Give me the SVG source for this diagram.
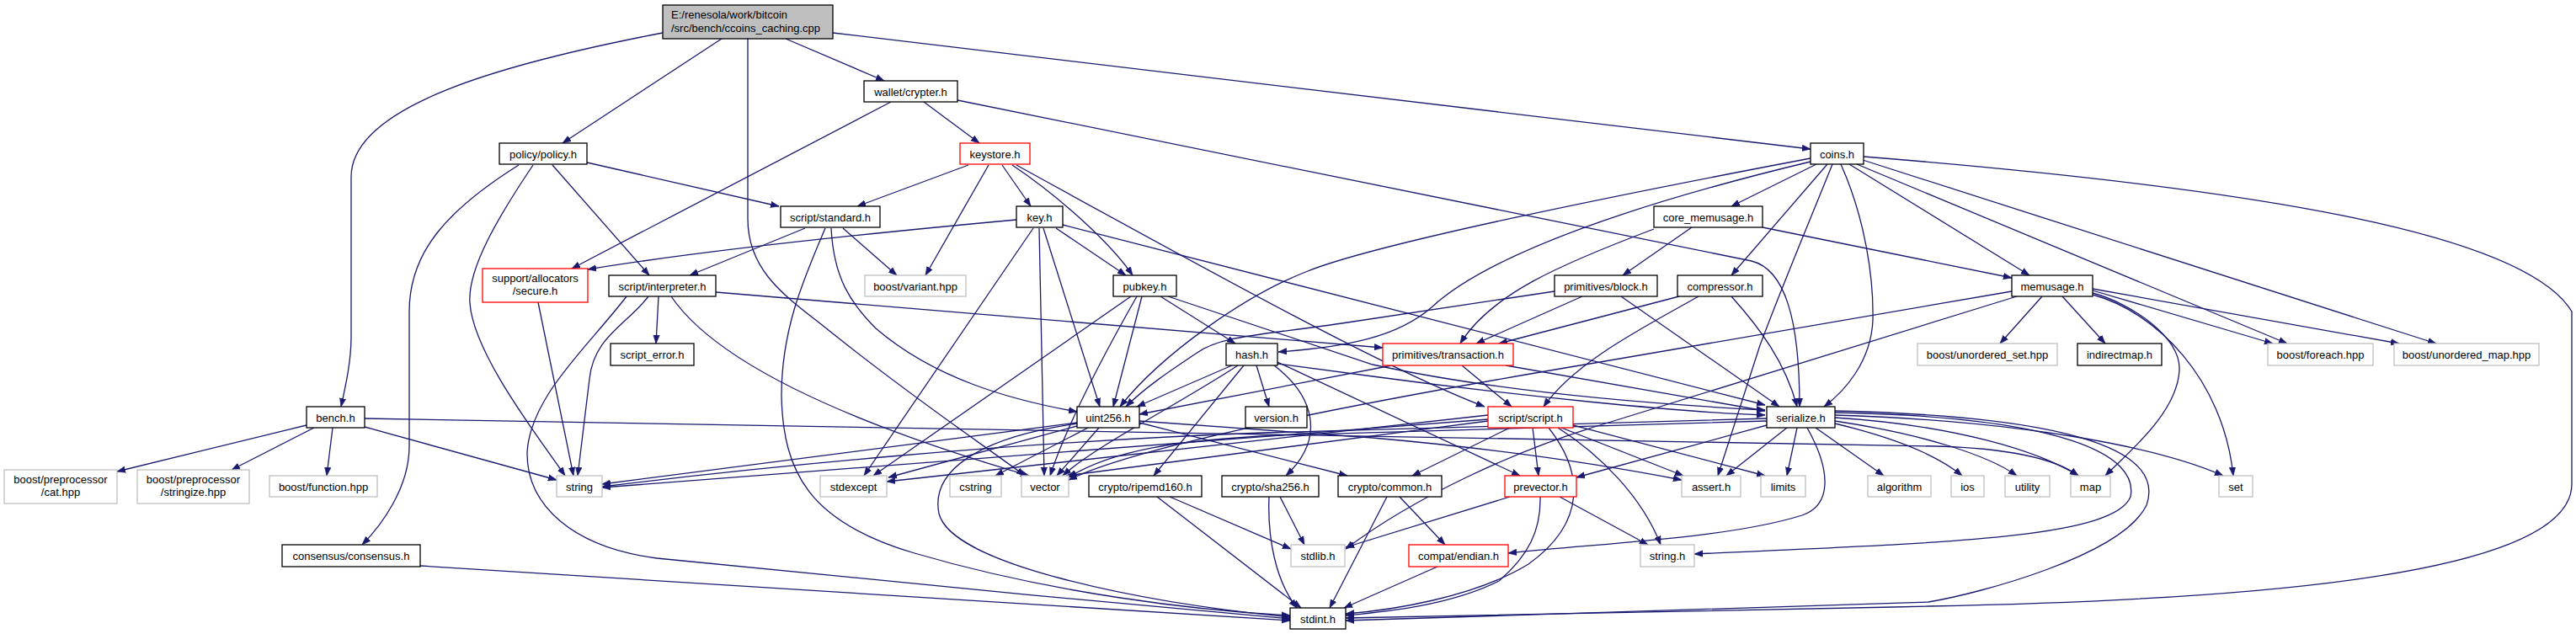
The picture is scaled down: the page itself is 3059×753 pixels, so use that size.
<svg xmlns="http://www.w3.org/2000/svg" width="3059" height="753" viewBox="0 0 3059 753">
<style>
.n rect{fill:#fff;stroke:#000;stroke-width:1.3}
.g rect{stroke:#bfbfbf}
.r rect{stroke:#ff0000}
.root rect{fill:#bfbfbf}
text{font-family:"Liberation Sans",Arial,sans-serif;font-size:13px;fill:#000;text-anchor:middle}
.root text{text-anchor:start}
#edges path{fill:none;stroke:#191970;stroke-width:1.3;marker-end:url(#arr)}
</style>
<defs>
<marker id="arr" markerUnits="userSpaceOnUse" markerWidth="12" markerHeight="10" refX="10" refY="4" orient="auto" viewBox="0 0 12 8">
<path d="M0,0.3 L10,4 L0,7.7 z" fill="#191970" stroke="#191970" stroke-width="0.6"/>
</marker>
</defs>
<rect width="3059" height="753" fill="#fff"/>
<g id="edges">
<path d="M787,39 C600,75 417,125 417,210 L417,400 C417,430 410,460 405,483"/>
<path d="M857,46 L668,170"/>
<path d="M888,46 L888,260 C888,320 930,350 975,385 C1080,470 1170,530 1217,565"/>
<path d="M933,46 L1050,96"/>
<path d="M989,39 L2150,177"/>
<path d="M1097,121 L1163,170"/>
<path d="M1058,121 L679,319"/>
<path d="M1137,119 L2080,310 C2120,320 2137,380 2137,483"/>
<path d="M1150,196 L1018,245"/>
<path d="M1174,196 L1099,327"/>
<path d="M1190,196 L1224,245"/>
<path d="M1202,196 C1260,235 1320,290 1345,327"/>
<path d="M1207,196 C1450,330 1650,440 1763,483"/>
<path d="M616,196 C530,250 486,300 486,370 L486,530 C486,580 452,625 430,647"/>
<path d="M633,196 C590,260 555,320 558,360 C562,420 640,520 671,565"/>
<path d="M656,196 L771,327"/>
<path d="M697,193 L925,245"/>
<path d="M956,271 L819,327"/>
<path d="M1001,271 L1065,327"/>
<path d="M980,271 C955,330 928,390 928,470 C930,560 960,620 1086,657 C1250,705 1420,725 1532,731"/>
<path d="M987,271 C990,330 1010,360 1040,390 C1110,450 1200,475 1279,489"/>
<path d="M1207,261 C1000,280 820,300 698,320"/>
<path d="M1227,271 L1026,565"/>
<path d="M1234,271 L1240,565"/>
<path d="M1239,271 L1306,483"/>
<path d="M1254,271 L1337,327"/>
<path d="M1262,267 L2096,481"/>
<path d="M1378,352 L1467,408"/>
<path d="M1387,352 L1630,433 C1800,470 2000,482 2096,487"/>
<path d="M1356,352 L1322,483"/>
<path d="M1343,352 L1037,565"/>
<path d="M1350,352 C1300,440 1265,510 1247,565"/>
<path d="M1463,434 L1350,483"/>
<path d="M1492,434 L1507,483"/>
<path d="M1477,434 L1370,565"/>
<path d="M1513,434 C1560,470 1575,520 1527,565"/>
<path d="M1470,434 C1400,480 1300,530 1262,565"/>
<path d="M1517,430 L1805,565"/>
<path d="M1517,432 L1630,447 C1800,470 2000,490 2096,493"/>
<path d="M1353,500 L1630,520 C1800,535 1920,555 1997,570"/>
<path d="M1292,508 L1182,565"/>
<path d="M1279,506 L1055,567"/>
<path d="M1305,508 L1255,565"/>
<path d="M1279,503 C1160,520 1105,560 1115,610 C1130,670 1350,715 1532,733"/>
<path d="M1279,502 L715,575"/>
<path d="M1353,502 L1600,565"/>
<path d="M782,352 L779,408"/>
<path d="M850,347 L1642,413"/>
<path d="M797,352 C850,430 1000,500 1222,565"/>
<path d="M770,352 C745,385 705,400 700,450 L686,565"/>
<path d="M744,352 C700,410 630,470 626,537 C625,600 680,650 780,663 C900,675 1300,715 1532,735"/>
<path d="M499,672 L1532,737"/>
<path d="M364,505 L139,560"/>
<path d="M373,508 L275,558"/>
<path d="M395,508 L388,565"/>
<path d="M433,507 L661,570"/>
<path d="M433,497 L2300,530 C2400,533 2445,548 2468,565"/>
<path d="M639,359 L681,565"/>
<path d="M2157,195 L2056,245"/>
<path d="M2170,195 L2056,327"/>
<path d="M2176,195 C2150,260 2120,330 2090,410 L2040,565"/>
<path d="M2186,195 C2215,260 2225,330 2224,380 C2222,430 2190,465 2166,483"/>
<path d="M2196,195 L2410,327"/>
<path d="M2205,195 L2716,408"/>
<path d="M2212,190 L2893,408"/>
<path d="M2150,192 C1950,240 1770,300 1700,365 C1660,400 1600,412 1518,418"/>
<path d="M2150,188 C1850,245 1620,295 1553,322 C1480,350 1380,420 1330,483"/>
<path d="M2213,186 C2700,225 3000,280 3054,370 L3054,575 C3054,680 2700,712 2290,720 C2000,727 1700,732 1598,734"/>
<path d="M1964,272 C1850,315 1770,350 1734,408"/>
<path d="M2009,270 L1927,327"/>
<path d="M2093,270 L2389,330"/>
<path d="M1879,352 L1753,408"/>
<path d="M1925,352 L2113,483"/>
<path d="M1846,346 L1600,383 C1500,398 1450,398 1420,420 C1390,440 1360,460 1337,483"/>
<path d="M1994,352 L1780,408"/>
<path d="M2017,352 C1950,390 1870,430 1833,483"/>
<path d="M2056,352 C2090,390 2120,430 2134,483"/>
<path d="M1736,434 L1795,483"/>
<path d="M1788,434 L2096,488"/>
<path d="M1653,434 L1353,492"/>
<path d="M1793,508 L1677,565"/>
<path d="M1820,508 L1827,565"/>
<path d="M1854,508 L1999,565"/>
<path d="M1868,505 L2096,565"/>
<path d="M1850,508 C1900,540 1950,590 1972,647"/>
<path d="M1839,508 C1880,560 1885,620 1815,670 C1750,710 1650,725 1598,729"/>
<path d="M1767,493 L1053,572"/>
<path d="M1767,498 L715,579"/>
<path d="M1767,500 L1266,565"/>
<path d="M2122,508 L2050,565"/>
<path d="M2134,508 L2122,565"/>
<path d="M2156,508 L2237,565"/>
<path d="M2146,508 C2175,560 2175,600 2140,612 C2050,640 1900,645 1791,657"/>
<path d="M2098,505 L1872,567"/>
<path d="M2098,500 L1520,517 C1400,522 1320,535 1269,567"/>
<path d="M2098,497 L1500,514 C1200,525 900,555 715,578"/>
<path d="M2179,503 C2250,520 2300,540 2330,565"/>
<path d="M2179,500 C2280,515 2360,540 2395,565"/>
<path d="M2179,496 C2320,505 2420,535 2468,565"/>
<path d="M2179,493 C2400,500 2560,530 2640,565"/>
<path d="M2179,490 C2450,495 2540,540 2530,590 C2510,640 2300,645 2012,658"/>
<path d="M2179,488 C2480,495 2570,540 2549,600 C2520,660 2350,705 2290,715 C2000,725 1700,735 1598,737"/>
<path d="M1793,590 L1598,650"/>
<path d="M1852,590 L1957,647"/>
<path d="M1829,590 C1830,630 1815,660 1780,690 C1720,720 1640,727 1598,731"/>
<path d="M1662,590 L1716,647"/>
<path d="M1647,590 L1579,722"/>
<path d="M1707,673 L1596,722"/>
<path d="M1389,590 L1533,652"/>
<path d="M1374,590 L1545,722"/>
<path d="M1520,590 L1549,647"/>
<path d="M1507,590 C1505,640 1515,690 1540,722"/>
<path d="M2425,352 L2375,408"/>
<path d="M2449,352 L2500,408"/>
<path d="M2485,345 L2699,408"/>
<path d="M2485,343 L2849,408"/>
<path d="M2485,348 C2530,360 2590,400 2588,440 C2585,490 2530,535 2500,565"/>
<path d="M2485,350 C2560,370 2640,450 2652,565"/>
<path d="M2395,352 L1900,505 C1800,535 1680,590 1598,652"/>
<path d="M2389,346 L1900,430 C1600,480 1350,530 1269,570"/>
</g>
<g id="n_root" class="n root"><rect x="787" y="6" width="202" height="40"/><text x="797" y="22">E:/renesola/work/bitcoin</text><text x="797" y="37.5">/src/bench/ccoins_caching.cpp</text></g>
<g id="n_crypter" class="n"><rect x="1026" y="96" width="111" height="25"/><text x="1081.5" y="113.5">wallet/crypter.h</text></g>
<g id="n_keystore" class="n r"><rect x="1140" y="170" width="83" height="25"/><text x="1181.5" y="187.5">keystore.h</text></g>
<g id="n_policy" class="n"><rect x="593" y="170" width="104" height="25"/><text x="645" y="187.5">policy/policy.h</text></g>
<g id="n_coins" class="n"><rect x="2150" y="170" width="63" height="25"/><text x="2181.5" y="187.5">coins.h</text></g>
<g id="n_standard" class="n"><rect x="927" y="245" width="118" height="25"/><text x="986" y="262.5">script/standard.h</text></g>
<g id="n_key" class="n"><rect x="1207" y="245" width="55" height="25"/><text x="1234.5" y="262.5">key.h</text></g>
<g id="n_core_memusage" class="n"><rect x="1964" y="245" width="129" height="25"/><text x="2028.5" y="262.5">core_memusage.h</text></g>
<g id="n_secure" class="n r"><rect x="573" y="319" width="125" height="40"/><text x="635.5" y="334.5">support/allocators</text><text x="635.5" y="350">/secure.h</text></g>
<g id="n_interpreter" class="n"><rect x="723" y="327" width="127" height="25"/><text x="786.5" y="344.5">script/interpreter.h</text></g>
<g id="n_variant" class="n g"><rect x="1027" y="327" width="120" height="25"/><text x="1087" y="344.5">boost/variant.hpp</text></g>
<g id="n_pubkey" class="n"><rect x="1322" y="327" width="75" height="25"/><text x="1359.5" y="344.5">pubkey.h</text></g>
<g id="n_block" class="n"><rect x="1846" y="327" width="122" height="25"/><text x="1907" y="344.5">primitives/block.h</text></g>
<g id="n_compressor" class="n"><rect x="1992" y="327" width="101" height="25"/><text x="2042.5" y="344.5">compressor.h</text></g>
<g id="n_memusage" class="n"><rect x="2389" y="327" width="96" height="25"/><text x="2437" y="344.5">memusage.h</text></g>
<g id="n_script_error" class="n"><rect x="725" y="408" width="99" height="26"/><text x="774.5" y="426">script_error.h</text></g>
<g id="n_hash" class="n"><rect x="1456" y="408" width="61" height="26"/><text x="1486.5" y="426">hash.h</text></g>
<g id="n_transaction" class="n r"><rect x="1642" y="408" width="155" height="26"/><text x="1719.5" y="426">primitives/transaction.h</text></g>
<g id="n_unordered_set" class="n g"><rect x="2277" y="408" width="166" height="26"/><text x="2360" y="426">boost/unordered_set.hpp</text></g>
<g id="n_indirectmap" class="n"><rect x="2467" y="408" width="100" height="26"/><text x="2517" y="426">indirectmap.h</text></g>
<g id="n_foreach" class="n g"><rect x="2693" y="408" width="125" height="26"/><text x="2755.5" y="426">boost/foreach.hpp</text></g>
<g id="n_unordered_map" class="n g"><rect x="2843" y="408" width="172" height="26"/><text x="2929" y="426">boost/unordered_map.hpp</text></g>
<g id="n_bench" class="n"><rect x="364" y="483" width="69" height="25"/><text x="398.5" y="500.5">bench.h</text></g>
<g id="n_uint256" class="n"><rect x="1279" y="483" width="74" height="25"/><text x="1316" y="500.5">uint256.h</text></g>
<g id="n_version" class="n"><rect x="1479" y="483" width="73" height="25"/><text x="1515.5" y="500.5">version.h</text></g>
<g id="n_script" class="n r"><rect x="1767" y="483" width="101" height="25"/><text x="1817.5" y="500.5">script/script.h</text></g>
<g id="n_serialize" class="n"><rect x="2098" y="483" width="81" height="25"/><text x="2138.5" y="500.5">serialize.h</text></g>
<g id="n_cat" class="n g"><rect x="5" y="558" width="134" height="40"/><text x="72" y="573.5">boost/preprocessor</text><text x="72" y="589">/cat.hpp</text></g>
<g id="n_stringize" class="n g"><rect x="163" y="558" width="133" height="40"/><text x="229.5" y="573.5">boost/preprocessor</text><text x="229.5" y="589">/stringize.hpp</text></g>
<g id="n_function" class="n g"><rect x="320" y="565" width="128" height="25"/><text x="384" y="582.5">boost/function.hpp</text></g>
<g id="n_string" class="n g"><rect x="661" y="565" width="54" height="25"/><text x="688" y="582.5">string</text></g>
<g id="n_stdexcept" class="n g"><rect x="974" y="565" width="79" height="25"/><text x="1013.5" y="582.5">stdexcept</text></g>
<g id="n_cstring" class="n g"><rect x="1128" y="565" width="61" height="25"/><text x="1158.5" y="582.5">cstring</text></g>
<g id="n_vector" class="n g"><rect x="1213" y="565" width="56" height="25"/><text x="1241" y="582.5">vector</text></g>
<g id="n_ripemd160" class="n"><rect x="1293" y="565" width="134" height="25"/><text x="1360" y="582.5">crypto/ripemd160.h</text></g>
<g id="n_sha256" class="n"><rect x="1451" y="565" width="115" height="25"/><text x="1508.5" y="582.5">crypto/sha256.h</text></g>
<g id="n_common" class="n"><rect x="1589" y="565" width="123" height="25"/><text x="1650.5" y="582.5">crypto/common.h</text></g>
<g id="n_prevector" class="n r"><rect x="1787" y="565" width="85" height="25"/><text x="1829.5" y="582.5">prevector.h</text></g>
<g id="n_assert" class="n g"><rect x="1997" y="565" width="70" height="25"/><text x="2032" y="582.5">assert.h</text></g>
<g id="n_limits" class="n g"><rect x="2091" y="565" width="53" height="25"/><text x="2117.5" y="582.5">limits</text></g>
<g id="n_algorithm" class="n g"><rect x="2218" y="565" width="75" height="25"/><text x="2255.5" y="582.5">algorithm</text></g>
<g id="n_ios" class="n g"><rect x="2317" y="565" width="39" height="25"/><text x="2336.5" y="582.5">ios</text></g>
<g id="n_utility" class="n g"><rect x="2381" y="565" width="53" height="25"/><text x="2407.5" y="582.5">utility</text></g>
<g id="n_map" class="n g"><rect x="2459" y="565" width="47" height="25"/><text x="2482.5" y="582.5">map</text></g>
<g id="n_set" class="n g"><rect x="2635" y="565" width="40" height="25"/><text x="2655" y="582.5">set</text></g>
<g id="n_consensus" class="n"><rect x="335" y="647" width="164" height="26"/><text x="417" y="665">consensus/consensus.h</text></g>
<g id="n_stdlib" class="n g"><rect x="1533" y="647" width="64" height="26"/><text x="1565" y="665">stdlib.h</text></g>
<g id="n_endian" class="n r"><rect x="1673" y="647" width="118" height="26"/><text x="1732" y="665">compat/endian.h</text></g>
<g id="n_string_h" class="n g"><rect x="1948" y="647" width="64" height="26"/><text x="1980" y="665">string.h</text></g>
<g id="n_stdint" class="n"><rect x="1532" y="722" width="66" height="25"/><text x="1565" y="739.5">stdint.h</text></g>
</svg>
